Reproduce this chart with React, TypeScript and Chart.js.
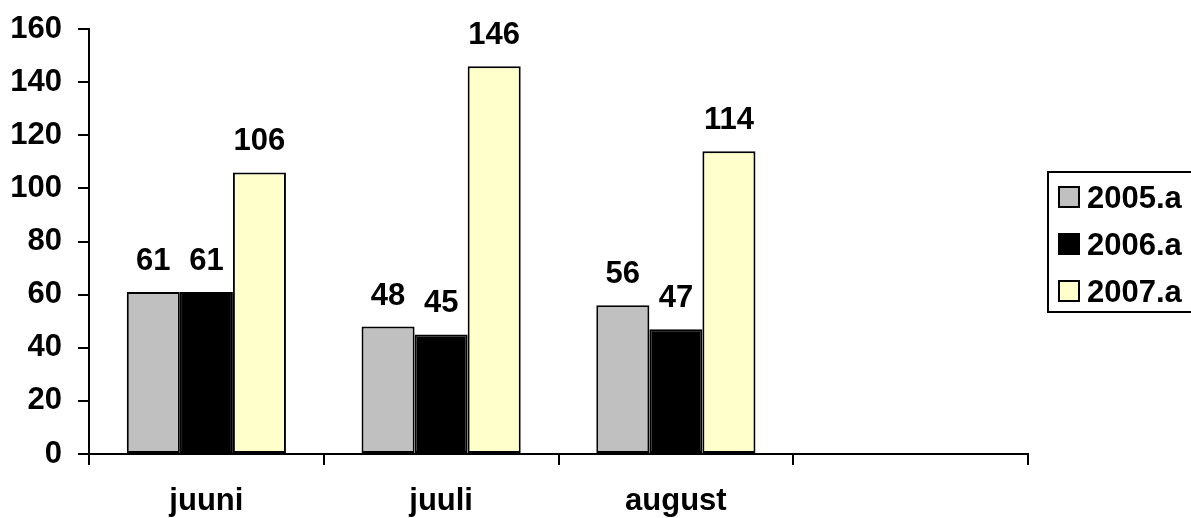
import React, { useEffect, useRef } from "react";
import { Chart, registerables } from "chart.js";

Chart.register(...registerables);

const categories = ["juuni", "juuli", "august", ""];
const seriesNames = ["2005.a", "2006.a", "2007.a"];
const values2005 = [61, 48, 56, null];
const values2006 = [61, 45, 47, null];
const values2007 = [106, 146, 114, null];
const seriesColors = ["#C0C0C0", "#000000", "#FFFFCC"];
const yMin = 0;
const yMax = 160;
const yStep = 20;

const FONT_FAMILY = "'Liberation Sans', Arial, sans-serif";
const FONT_SIZE = 31;

const dataLabelPlugin = {
  id: "dataLabels",
  afterDatasetsDraw(chart: any) {
    const ctx = chart.ctx;
    ctx.save();
    ctx.font = `bold ${FONT_SIZE}px ${FONT_FAMILY}`;
    ctx.fillStyle = "#000";
    ctx.textAlign = "center";
    ctx.textBaseline = "alphabetic";
    chart.data.datasets.forEach((ds: any, i: number) => {
      const meta = chart.getDatasetMeta(i);
      meta.data.forEach((bar: any, j: number) => {
        const v = ds.data[j];
        if (v === null || v === undefined) return;
        ctx.fillText(String(v), bar.x, bar.y - 22);
      });
    });
    ctx.restore();
  },
};

const legendPlugin = {
  id: "boxLegend",
  afterDraw(chart: any) {
    const ctx = chart.ctx;
    ctx.save();
    ctx.lineWidth = 2;
    ctx.strokeStyle = "#000";
    ctx.strokeRect(1048, 172, 200, 140);
    ctx.font = `bold ${FONT_SIZE}px ${FONT_FAMILY}`;
    ctx.textAlign = "left";
    ctx.textBaseline = "alphabetic";
    chart.data.datasets.forEach((ds: any, i: number) => {
      const cy = 197 + i * 47;
      ctx.fillStyle = ds.backgroundColor;
      ctx.fillRect(1059, cy - 10, 20, 20);
      ctx.lineWidth = 2;
      ctx.strokeStyle = "#000";
      ctx.strokeRect(1059, cy - 10, 20, 20);
      ctx.fillStyle = "#000";
      ctx.fillText(ds.label, 1087, cy + 11);
    });
    ctx.restore();
  },
};

export default function App() {
  const canvasRef = useRef<HTMLCanvasElement | null>(null);

  useEffect(() => {
    document.body.style.margin = "0";
    const canvas = canvasRef.current;
    if (!canvas) return;
    const seriesValues = [values2005, values2006, values2007];
    const chart = new Chart(canvas, {
      type: "bar",
      data: {
        labels: categories,
        datasets: seriesNames.map((name, i) => ({
          label: name,
          data: seriesValues[i],
          backgroundColor: seriesColors[i],
          borderColor: "#000",
          borderWidth: 2,
          borderSkipped: false,
          categoryPercentage: 0.678,
          barPercentage: 1,
        })),
      },
      options: {
        responsive: false,
        animation: false,
        maintainAspectRatio: false,
        layout: { padding: { left: 0, right: 163, top: 29, bottom: 0 } },
        plugins: {
          legend: { display: false },
          tooltip: { enabled: false },
          title: { display: false },
        },
        scales: {
          x: {
            offset: true,
            grid: {
              offset: true,
              drawOnChartArea: false,
              drawTicks: true,
              tickLength: 11,
              color: "#000",
              lineWidth: 2,
            },
            border: { display: true, color: "#000", width: 2 },
            ticks: {
              color: "#000",
              font: { family: FONT_FAMILY, size: FONT_SIZE, weight: "bold" },
              padding: 18,
              maxRotation: 0,
              autoSkip: false,
            },
            afterFit(scale: any) {
              scale.height = 64;
              scale.paddingLeft = 0;
              scale.paddingRight = 0;
            },
          },
          y: {
            min: yMin,
            max: yMax,
            grid: {
              drawOnChartArea: false,
              drawTicks: true,
              tickLength: 11,
              color: "#000",
              lineWidth: 2,
            },
            border: { display: true, color: "#000", width: 2 },
            ticks: {
              stepSize: yStep,
              color: "#000",
              font: { family: FONT_FAMILY, size: FONT_SIZE, weight: "bold" },
              padding: 16,
            },
            afterFit(scale: any) {
              scale.width = 89;
              scale.paddingTop = 0;
              scale.paddingBottom = 0;
            },
          },
        },
      },
      plugins: [dataLabelPlugin, legendPlugin],
    } as any);
    return () => chart.destroy();
  }, []);

  return (
    <div style={{ width: 1191, height: 518, background: "#fff" }}>
      <canvas ref={canvasRef} width={1191} height={518} style={{ display: "block" }} />
    </div>
  );
}
